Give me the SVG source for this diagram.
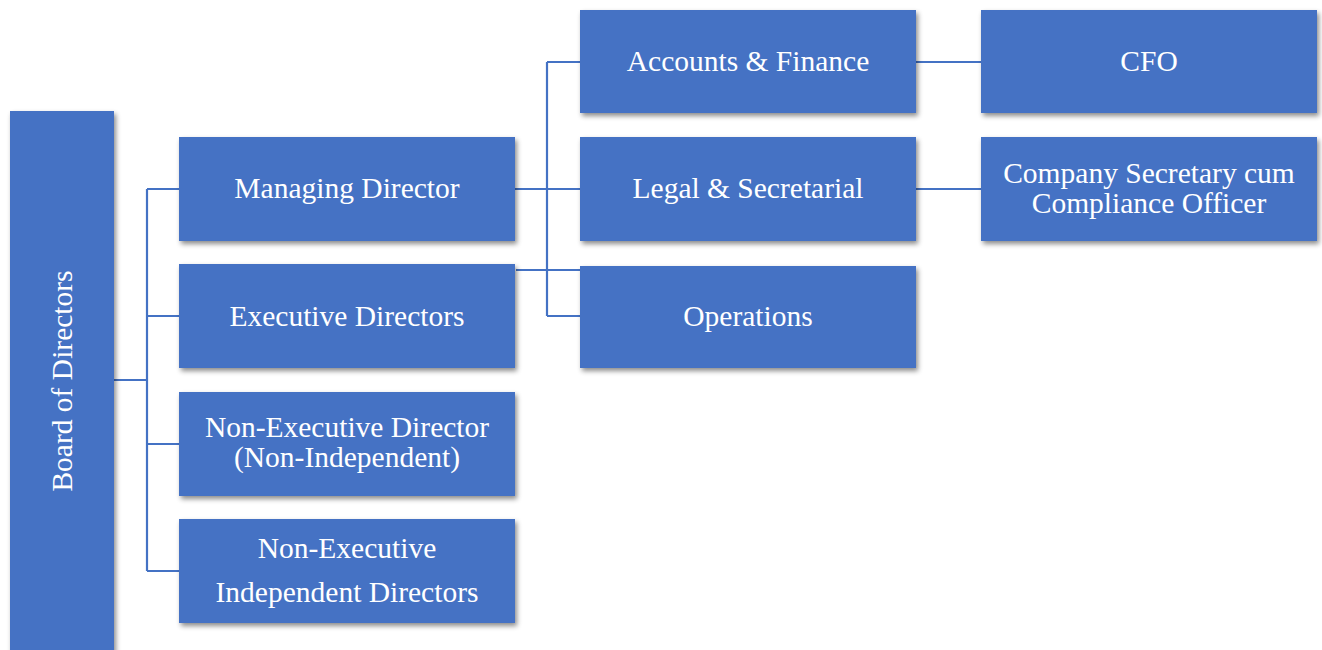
<svg xmlns="http://www.w3.org/2000/svg" width="1322" height="650" viewBox="0 0 1322 650">
<defs>
<filter id="sh" x="-10%" y="-10%" width="130%" height="130%">
<feDropShadow dx="2" dy="3" stdDeviation="2.5" flood-color="#000" flood-opacity="0.45"/>
</filter>
<style>
.box{fill:#4472C4;filter:url(#sh);}
.t{fill:#fff;font-family:"Liberation Serif","Times New Roman",serif;font-size:29.5px;text-anchor:middle;}
.c{stroke:#4472C4;stroke-width:2.2;fill:none;}
</style>
</defs>
<rect width="1322" height="650" fill="#fff"/>
<g id="connectors">
<path class="c" d="M114 380H147M147 189V571M147 189H179M147 316H179M147 444H179M147 571H179"/>
<path class="c" d="M515 189H580M547 62V316M547 62H580M547 316H580M516 270H580"/>
<path class="c" d="M916 62H981M916 189H981"/>
</g>
<g id="board">
<rect class="box" x="10" y="111" width="104" height="545"/>
<text class="t" transform="translate(72 381) rotate(-90)">Board of Directors</text>
</g>
<g id="md">
<rect class="box" x="179" y="137" width="336" height="104"/>
<text class="t" x="347" y="198">Managing Director</text>
</g>
<g id="ed">
<rect class="box" x="179" y="264" width="336" height="104"/>
<text class="t" x="347" y="326">Executive Directors</text>
</g>
<g id="ned">
<rect class="box" x="179" y="392" width="336" height="104"/>
<text class="t" x="347" y="437">Non-Executive Director</text>
<text class="t" x="347" y="467">(Non-Independent)</text>
</g>
<g id="nei">
<rect class="box" x="179" y="519" width="336" height="104"/>
<text class="t" x="347" y="558">Non-Executive</text>
<text class="t" x="347" y="602">Independent Directors</text>
</g>
<g id="af">
<rect class="box" x="580" y="10" width="336" height="103"/>
<text class="t" x="748" y="71">Accounts &amp; Finance</text>
</g>
<g id="ls">
<rect class="box" x="580" y="137" width="336" height="104"/>
<text class="t" x="748" y="198">Legal &amp; Secretarial</text>
</g>
<g id="ops">
<rect class="box" x="580" y="266" width="336" height="102"/>
<text class="t" x="748" y="326">Operations</text>
</g>
<g id="cfo">
<rect class="box" x="981" y="10" width="336" height="103"/>
<text class="t" x="1149" y="71">CFO</text>
</g>
<g id="cs">
<rect class="box" x="981" y="137" width="336" height="104"/>
<text class="t" x="1149" y="183">Company Secretary cum</text>
<text class="t" x="1149" y="213">Compliance Officer</text>
</g>
</svg>
